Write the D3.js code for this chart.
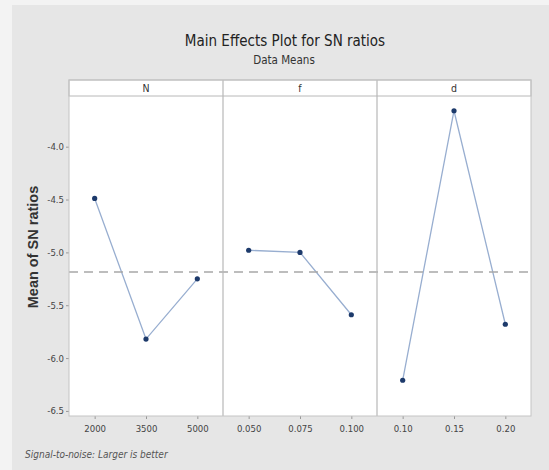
<!DOCTYPE html>
<html><head><meta charset="utf-8">
<script src="https://cdn.jsdelivr.net/npm/d3@7"></script>
<style>
html,body{margin:0;padding:0;background:#f3f3f3;}
svg{display:block;}
text{font-family:"DejaVu Sans",sans-serif;font-stretch:condensed;}
</style></head>
<body>
<svg id="chart" width="549" height="470"></svg>
<script>
const factors = ["N", "f", "d"];
const levelsN = ["2000", "3500", "5000"];
const levelsF = ["0.050", "0.075", "0.100"];
const levelsD = ["0.10", "0.15", "0.20"];
const valuesN = [-4.49, -5.82, -5.25];
const valuesF = [-4.98, -5.00, -5.59];
const valuesD = [-6.21, -3.66, -5.68];
const yTicks = [-4.0, -4.5, -5.0, -5.5, -6.0, -6.5];
const titleText = "Main Effects Plot for SN ratios";
const subtitleText = "Data Means";
const yLabel = "Mean of SN ratios";
const footerText = "Signal-to-noise: Larger is better";

const panels = [
  {name: factors[0], levels: levelsN, values: valuesN},
  {name: factors[1], levels: levelsF, values: valuesF},
  {name: factors[2], levels: levelsD, values: valuesD}
];
const allVals = valuesN.concat(valuesF, valuesD);
const grandMean = d3.mean(allVals);

const svg = d3.select("#chart");
const W = 549, H = 470;
const plotL = 69, plotR = 531, stripT = 80, stripB = 96, plotB = 416;

svg.append("rect").attr("x", 12).attr("y", 5).attr("width", W - 12).attr("height", H - 5).attr("fill", "#e6e6e6");

const y = d3.scaleLinear().domain([-6.548, -3.53]).range([plotB, stripB + 1]);
const panelX = d3.scaleBand().domain(factors).range([plotL, plotR]);
const fmt = v => v.toFixed(1);

svg.append("rect").attr("x", plotL).attr("y", stripB).attr("width", plotR - plotL).attr("height", plotB - stripB)
  .attr("fill", "#ffffff");
svg.append("rect").attr("x", plotL).attr("y", stripT).attr("width", plotR - plotL).attr("height", stripB - stripT)
  .attr("fill", "#ffffff").attr("stroke", "#b8b8b8").attr("stroke-width", 1);

svg.append("text").attr("x", 285).attr("y", 46).attr("text-anchor", "middle")
  .attr("font-size", 15).attr("fill", "#222").text(titleText);
svg.append("text").attr("x", 284).attr("y", 64).attr("text-anchor", "middle")
  .attr("font-size", 11.5).attr("fill", "#333").text(subtitleText);

const yAxis = d3.axisLeft(y).tickValues(yTicks).tickFormat(fmt).tickSize(3).tickPadding(2);
const gy = svg.append("g").attr("transform", `translate(${plotL},0)`).call(yAxis);
gy.select(".domain").remove();
gy.selectAll(".tick line").attr("stroke", "#999");
gy.selectAll(".tick text").attr("font-size", 9.5).attr("fill", "#444")
  .attr("font-family", '"DejaVu Sans",sans-serif').style("font-stretch", "condensed");

svg.append("text").attr("transform", `translate(38,247) rotate(-90)`)
  .attr("text-anchor", "middle").attr("font-size", 14.5).attr("font-weight", "bold")
  .style("font-family", '"Liberation Sans","Arial",sans-serif').style("font-stretch", "normal")
  .attr("fill", "#333").text(yLabel);

const line = d3.line();

panels.forEach(p => {
  const x0 = panelX(p.name), bw = panelX.bandwidth();
  const x = d3.scalePoint().domain(p.levels).range([x0, x0 + bw]).padding(0.5);
  svg.append("text").attr("x", x0 + bw / 2).attr("y", stripB - 4).attr("text-anchor", "middle")
    .attr("font-size", 10.5).attr("fill", "#333").text(p.name);
  const xAxis = d3.axisBottom(x).tickSize(3).tickPadding(6);
  const gx = svg.append("g").attr("transform", `translate(0,${plotB})`).call(xAxis);
  gx.select(".domain").remove();
  gx.selectAll(".tick line").attr("stroke", "#999");
  gx.selectAll(".tick text").attr("font-size", 9.5).attr("fill", "#444")
    .attr("font-family", '"DejaVu Sans",sans-serif').style("font-stretch", "condensed");
  const pts = p.levels.map((l, i) => [x(l), y(p.values[i])]);
  svg.append("path").attr("d", line(pts)).attr("fill", "none").attr("stroke", "#98aed0").attr("stroke-width", 1.3);
  svg.selectAll(null).data(pts).enter().append("circle")
    .attr("cx", d => d[0]).attr("cy", d => d[1]).attr("r", 2.6).attr("fill", "#1d3a6b");
});

svg.append("line").attr("x1", plotL).attr("x2", plotR).attr("y1", y(grandMean)).attr("y2", y(grandMean))
  .attr("stroke", "#a8a8a8").attr("stroke-width", 1.5).attr("stroke-dasharray", "9,6");

factors.slice(1).forEach(f => {
  svg.append("line").attr("x1", panelX(f)).attr("x2", panelX(f)).attr("y1", stripT).attr("y2", plotB)
    .attr("stroke", "#b8b8b8").attr("stroke-width", 1.2);
});
svg.append("rect").attr("x", plotL).attr("y", stripT).attr("width", plotR - plotL).attr("height", plotB - stripT)
  .attr("fill", "none").attr("stroke", "#c4c4c4").attr("stroke-width", 1);

svg.append("text").attr("x", 25).attr("y", 458).attr("font-size", 10).attr("font-style", "italic")
  .attr("fill", "#555").text(footerText);
</script>
</body></html>
